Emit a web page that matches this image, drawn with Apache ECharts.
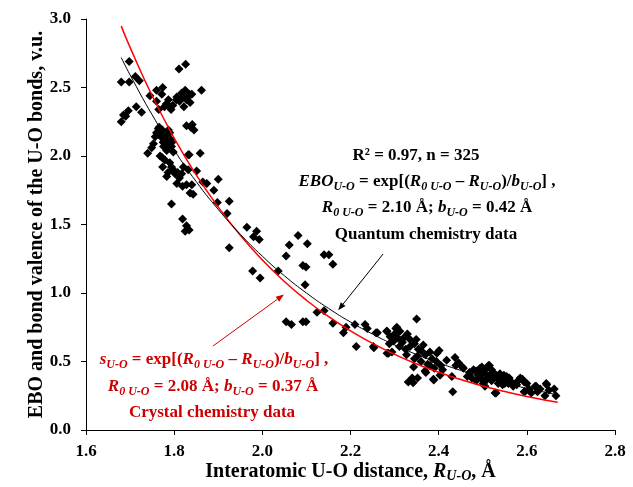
<!DOCTYPE html>
<html><head><meta charset="utf-8">
<script src="https://cdn.jsdelivr.net/npm/echarts@6/dist/echarts.min.js"></script>
<style>html,body{margin:0;padding:0;background:#fff}#c{width:633px;height:487px}</style>
</head><body><div id="c"></div>
<script>
// Axis ranges / ticks
const xMin = 1.6, xMax = 2.8, xStep = 0.2;
const yMin = 0, yMax = 3.0, yStep = 0.5;

// Quantum chemistry data points [R(U-O), EBO]
const quantumPoints = [
  [1.680,2.54],[1.698,2.69],[1.712,2.58],[1.698,2.54],[1.721,2.55],[1.696,2.33],[1.714,2.36],[1.726,2.32],[1.680,2.25],[1.690,2.29],[1.685,2.30],
  [1.745,2.44],[1.760,2.48],[1.774,2.50],[1.772,2.45],[1.760,2.40],[1.787,2.41],[1.787,2.37],[1.793,2.34],[1.765,2.34],[1.778,2.36],[1.782,2.38],
  [1.811,2.635],[1.826,2.67],[1.862,2.48],[1.806,2.43],[1.817,2.46],[1.825,2.48],[1.820,2.43],[1.830,2.43],[1.840,2.45],[1.836,2.39],[1.822,2.36],[1.805,2.41],[1.797,2.37],[1.812,2.40],[1.828,2.41],[1.835,2.45],
  [1.828,2.22],[1.841,2.23],[1.845,2.19],[1.838,2.21],
  [1.764,2.20],[1.757,2.14],[1.768,2.18],[1.772,2.16],[1.787,2.19],[1.790,2.17],[1.779,2.12],[1.787,2.09],[1.794,2.07],[1.783,2.04],[1.798,2.03],[1.753,2.09],[1.749,2.06],[1.740,2.02],[1.768,2.00],[1.775,2.10],[1.770,2.14],[1.781,2.15],[1.760,2.17],[1.792,2.12],[1.785,2.06],[1.776,2.07],[1.795,2.10],[1.766,2.21],[1.773,2.19],
  [1.832,2.01],[1.859,2.02],
  [1.772,1.99],[1.779,1.97],[1.774,1.92],[1.783,1.85],[1.794,1.92],[1.802,1.87],[1.806,1.80],[1.817,1.87],[1.819,1.78],[1.828,1.79],[1.840,1.79],[1.836,1.73],[1.843,1.72],[1.834,2.01],
  [1.821,1.92],[1.832,1.90],[1.851,1.89],[1.865,1.81],[1.874,1.80],[1.900,1.83],[1.890,1.75],[1.898,1.66],[1.925,1.67],[1.920,1.58],
  [1.794,1.65],[1.819,1.54],[1.828,1.49],[1.825,1.45],[1.834,1.46],[1.790,1.95],[1.798,1.90],[1.812,1.84],[1.808,1.88],[1.786,1.88],
  [1.965,1.48],[1.987,1.45],[1.980,1.41],[1.993,1.39],[1.925,1.33],
  [2.036,1.16],[2.054,1.27],[2.061,1.35],[2.081,1.42],[2.102,1.36],[2.092,1.20],[2.099,1.19],[2.097,1.06],[1.978,1.16],[1.995,1.11],
  [2.054,0.79],[2.066,0.77],[2.092,0.79],[2.099,0.79],[2.124,0.86],[2.140,0.87],[2.151,1.28],[2.140,1.28],[2.160,1.21],
  [2.160,0.78],[2.184,0.71],[2.190,0.75],[2.213,0.61],[2.210,0.77],[2.233,0.77],[2.238,0.74],[2.261,0.71],[2.253,0.60],[2.283,0.72],[2.283,0.56],[2.303,0.74],[2.350,0.81],
  [2.258,0.71],[2.305,0.75],[2.282,0.72],[2.290,0.68],[2.329,0.70],[2.318,0.64],[2.349,0.66],[2.311,0.61],[2.335,0.61],[2.354,0.59],[2.294,0.57],[2.252,0.61],[2.286,0.56],[2.327,0.55],[2.352,0.54],
  [2.380,0.57],[2.396,0.56],[2.418,0.51],[2.437,0.53],[2.439,0.47],[2.380,0.47],[2.343,0.46],[2.369,0.43],[2.340,0.38],[2.331,0.35],[2.352,0.38],[2.388,0.37],[2.403,0.40],[2.409,0.44],[2.430,0.39],[2.432,0.28],[2.456,0.45],[2.342,0.345],[2.371,0.42],[2.389,0.365],[2.401,0.58],
  [2.300,0.70],[2.312,0.72],[2.320,0.67],[2.335,0.66],[2.345,0.63],[2.325,0.59],[2.360,0.58],[2.370,0.55],[2.385,0.52],[2.395,0.50],[2.405,0.47],[2.390,0.45],[2.375,0.48],[2.360,0.50],[2.345,0.52],[2.365,0.62],[2.298,0.65],[2.288,0.63],[2.308,0.67],
  [2.445,0.49],[2.479,0.44],[2.498,0.46],[2.515,0.47],[2.524,0.42],[2.539,0.41],[2.554,0.39],[2.501,0.34],[2.509,0.40],[2.530,0.27],[2.558,0.34],[2.585,0.38],[2.594,0.35],[2.577,0.33],[2.594,0.28],[2.621,0.32],[2.644,0.34],[2.662,0.30],[2.666,0.25],[2.641,0.25],[2.624,0.28],
  [2.454,0.46],[2.494,0.45],[2.513,0.47],[2.528,0.27],[2.505,0.32],[2.569,0.32],[2.619,0.32],[2.645,0.33],[2.595,0.28],
  [2.470,0.42],[2.485,0.43],[2.490,0.40],[2.500,0.42],[2.505,0.44],[2.515,0.40],[2.520,0.44],[2.525,0.38],[2.530,0.40],[2.535,0.37],[2.540,0.38],[2.545,0.36],[2.548,0.40],[2.550,0.34],[2.555,0.36],[2.560,0.38],[2.565,0.35],[2.545,0.33],[2.535,0.34],[2.520,0.36],[2.510,0.37],[2.580,0.36],[2.590,0.37],[2.600,0.34],[2.605,0.30],[2.610,0.27],[2.630,0.30],[2.650,0.29],[2.465,0.39],[2.475,0.38],[2.485,0.36],[2.495,0.38]
];

// Fitted curves
const curveX   = [1.68, 1.70, 1.75, 1.80, 1.85, 1.90, 1.95, 2.00, 2.05, 2.10, 2.15, 2.20, 2.25, 2.30, 2.35, 2.40, 2.45, 2.50, 2.55, 2.60, 2.65, 2.67];
const quantumY = [2.718,2.592,2.301,2.043,1.813,1.610,1.429,1.269,1.126,1.000,0.888,0.788,0.700,0.621,0.551,0.490,0.435,0.386,0.343,0.304,0.270,0.257];
const crystalY = [2.948,2.793,2.440,2.131,1.862,1.627,1.421,1.241,1.084,0.947,0.828,0.723,0.632,0.552,0.482,0.421,0.368,0.321,0.281,0.245,0.214,0.203];

// Annotation arrows (data coordinates)
const quantumArrow = [[2.274,1.285],[2.172,0.874]];
const crystalArrow = [[1.888,0.613],[2.049,0.989]];

const serif = '"Liberation Serif","Times New Roman",serif';
const RED_TXT = '#cc0000';
const BLK = '#000';

function richSet(color, size, lh){
  return {
    n:  {fontFamily: serif, fontWeight:'bold', fontSize:size, color, lineHeight:lh, verticalAlign:'middle'},
    i:  {fontFamily: serif, fontWeight:'bold', fontStyle:'italic', fontSize:size, color, lineHeight:lh, verticalAlign:'middle'},
    s:  {fontFamily: serif, fontWeight:'bold', fontStyle:'italic', fontSize:Math.round(size*0.68), color, lineHeight:Math.round(size*0.62), verticalAlign:'bottom'}
  };
}

function txt(x, y, text, color){
  return {
    type:'text', x, y, silent:true,
    style:{
      text, fill: color, align:'center', verticalAlign:'middle', textAlign:'center', textVerticalAlign:'middle',
      font: 'bold 17px ' + serif, rich: richSet(color, 17, 21)
    }
  };
}

const chart = echarts.init(document.getElementById('c'), null, {renderer:'canvas'});
chart.setOption({
  animation:false,
  backgroundColor:'#fff',
  grid:{left:86, right:18, top:19, bottom:57, containLabel:false, outerBoundsMode:'none'},
  xAxis:{
    type:'value', min:xMin, max:xMax, interval:xStep,
    axisLine:{show:true, onZero:false, lineStyle:{color:'#000', width:1}},
    axisTick:{show:true, inside:false, length:5, lineStyle:{color:'#000'}},
    splitLine:{show:false},
    axisLabel:{color:'#000', fontFamily:serif, fontWeight:'bold', fontSize:17, margin:13, formatter:v=>v.toFixed(1)},
    name:'{n|Interatomic U-O distance, }{i|R}{s|U-O}{n|, Å}',
    nameLocation:'middle', nameGap:31, nameMoveOverlap:false,
    nameTextStyle:{rich: richSet('#000', 20, 22)}
  },
  yAxis:{
    type:'value', min:yMin, max:yMax, interval:yStep,
    axisLine:{show:true, lineStyle:{color:'#000', width:1}},
    axisTick:{show:true, inside:false, length:5, lineStyle:{color:'#000'}},
    splitLine:{show:false},
    axisLabel:{color:'#000', fontFamily:serif, fontWeight:'bold', fontSize:17, margin:15, formatter:v=>v.toFixed(1)},
    name:'EBO and bond valence of the U-O bonds, v.u.',
    nameLocation:'middle', nameGap:39, nameMoveOverlap:false,
    nameTextStyle:{color:'#000', fontFamily:serif, fontWeight:'bold', fontSize:20}
  },
  series:[
    {
      type:'scatter', name:'quantum', data: quantumPoints,
      symbol:'diamond', symbolSize:9, itemStyle:{color:'#000', opacity:1}, z:3
    },
    {
      type:'line', name:'crystal fit', data: curveX.map((x,k)=>[x, crystalY[k]]),
      smooth:true, showSymbol:false, lineStyle:{color:'#ff0000', width:1.5}, z:4
    },
    {
      type:'line', name:'quantum fit', data: curveX.map((x,k)=>[x, quantumY[k]]),
      smooth:true, showSymbol:false, lineStyle:{color:'#000', width:1}, z:4
    }
  ]
});

function arrowGraphic(id, from, to, color){
  const p1 = chart.convertToPixel({gridIndex:0}, from);
  const p2 = chart.convertToPixel({gridIndex:0}, to);
  const dx = p2[0]-p1[0], dy = p2[1]-p1[1], L = Math.hypot(dx, dy), ux = dx/L, uy = dy/L;
  const hl = 8, hw = 3;
  const bx = p2[0]-ux*hl, by = p2[1]-uy*hl;
  return [
    {type:'line', id:id+'_l', silent:true, z:10, shape:{x1:p1[0], y1:p1[1], x2:bx, y2:by}, style:{stroke:color, lineWidth:1}},
    {type:'polygon', id:id+'_h', silent:true, z:10, shape:{points:[[p2[0],p2[1]],[bx-uy*hw,by+ux*hw],[bx+uy*hw,by-ux*hw]]}, style:{fill:color}}
  ];
}

chart.setOption({
  graphic:[
    txt(416, 156, '{n|R² = 0.97, n = 325}', BLK),
    txt(427, 182, '{i|EBO}{s|U-O}{n| = exp[(}{i|R}{s|0 U-O}{n| – }{i|R}{s|U-O}{n|)/}{i|b}{s|U-O}{n|] ,}', BLK),
    txt(427, 208, '{i|R}{s|0 U-O}{n| = 2.10 Å; }{i|b}{s|U-O}{n| = 0.42 Å}', BLK),
    txt(426, 235, '{n|Quantum chemistry data}', BLK),
    txt(214, 360, '{i|s}{s|U-O}{n| = exp[(}{i|R}{s|0 U-O}{n| – }{i|R}{s|U-O}{n|)/}{i|b}{s|U-O}{n|] ,}', RED_TXT),
    txt(213, 387, '{i|R}{s|0 U-O}{n| = 2.08 Å; }{i|b}{s|U-O}{n| = 0.37 Å}', RED_TXT),
    txt(212, 413, '{n|Crystal chemistry data}', RED_TXT),
    ...arrowGraphic('qa', quantumArrow[0], quantumArrow[1], '#000'),
    ...arrowGraphic('ca', crystalArrow[0], crystalArrow[1], '#d00000')
  ]
});
</script>
</body></html>
